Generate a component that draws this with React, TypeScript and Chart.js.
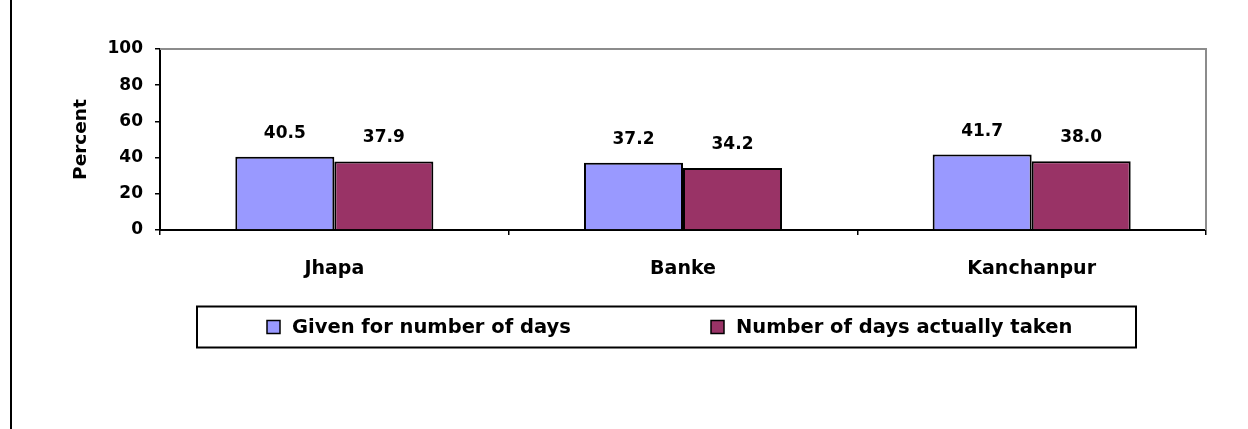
import React, { useEffect, useRef } from "react";
import { Chart, registerables } from "chart.js";

Chart.register(...registerables);

const categories = ["Jhapa", "Banke", "Kanchanpur"];
const givenDays = [40.5, 37.2, 41.7];
const actualDays = [37.9, 34.2, 38.0];
const seriesNames = ["Given for number of days", "Number of days actually taken"];
const seriesColors = ["#9999FF", "#993366"];
const yMin = 0;
const yMax = 100;
const yStep = 20;

const FONT = "'DejaVu Sans', sans-serif";

const frameAndLabels = {
  id: "frameAndLabels",
  afterDatasetsDraw(chart: any) {
    const { ctx } = chart;
    ctx.save();
    ctx.font = `bold 17px ${FONT}`;
    ctx.fillStyle = "#000";
    ctx.textAlign = "center";
    ctx.textBaseline = "alphabetic";
    chart.data.datasets.forEach((ds: any, di: number) => {
      const meta = chart.getDatasetMeta(di);
      meta.data.forEach((el: any, i: number) => {
        ctx.fillText(Number(ds.data[i]).toFixed(1), el.x, el.y - 19);
      });
    });
    ctx.restore();
  },
  afterDraw(chart: any) {
    const { ctx, chartArea } = chart;
    const { left, top, right, bottom } = chartArea;
    ctx.save();
    // top and right plot frame
    ctx.strokeStyle = "#8c8c8c";
    ctx.lineWidth = 2;
    ctx.beginPath();
    ctx.moveTo(left, top);
    ctx.lineTo(right, top);
    ctx.lineTo(right, bottom);
    ctx.stroke();

    // legend box
    const boxL = 197;
    const boxT = 306.5;
    const boxW = 939;
    const boxH = 41;
    ctx.strokeStyle = "#000";
    ctx.lineWidth = 2;
    ctx.strokeRect(boxL, boxT, boxW, boxH);
    const itemX = [267, 711];
    const cy = boxT + boxH / 2;
    ctx.font = `bold 19.5px ${FONT}`;
    ctx.textAlign = "left";
    ctx.textBaseline = "middle";
    seriesNames.forEach((name, i) => {
      const sw = 13;
      ctx.fillStyle = seriesColors[i];
      ctx.fillRect(itemX[i], cy - sw / 2, sw, sw);
      ctx.lineWidth = 1.5;
      ctx.strokeStyle = "#000";
      ctx.strokeRect(itemX[i], cy - sw / 2, sw, sw);
      ctx.fillStyle = "#000";
      ctx.fillText(name, itemX[i] + sw + 12, cy + 1);
    });
    ctx.restore();
  },
};

export default function App() {
  const canvasRef = useRef<HTMLCanvasElement | null>(null);

  useEffect(() => {
    if (!canvasRef.current) return;
    const tickFont = { family: FONT, size: 17, weight: "bold" as const };
    const catFont = { family: FONT, size: 19, weight: "bold" as const };
    const chart = new Chart(canvasRef.current, {
      type: "bar",
      data: {
        labels: categories,
        datasets: [
          {
            label: seriesNames[0],
            data: givenDays,
            backgroundColor: seriesColors[0],
            borderColor: "#000",
            borderWidth: 2,
            categoryPercentage: 0.568,
            barPercentage: 1,
          },
          {
            label: seriesNames[1],
            data: actualDays,
            backgroundColor: seriesColors[1],
            borderColor: "#000",
            borderWidth: 2,
            categoryPercentage: 0.568,
            barPercentage: 1,
          },
        ],
      },
      options: {
        responsive: false,
        animation: false,
        layout: { padding: { left: 0, top: 49, right: 42, bottom: 0 } },
        plugins: {
          legend: { display: false },
          tooltip: { enabled: false },
          title: { display: false },
        },
        scales: {
          x: {
            grid: {
              offset: true,
              drawOnChartArea: false,
              tickLength: 5,
              color: "#000",
              lineWidth: 1.5,
            },
            border: { color: "#000", width: 2 },
            ticks: { font: catFont, color: "#000", padding: 23 },
            afterFit: (s: any) => {
              s.height = 199;
            },
          },
          y: {
            min: yMin,
            max: yMax,
            ticks: { stepSize: yStep, font: tickFont, color: "#000", padding: 12 },
            grid: {
              drawOnChartArea: false,
              tickLength: 5,
              color: "#000",
              lineWidth: 1.5,
            },
            border: { color: "#000", width: 2 },
            title: {
              display: true,
              text: "Percent",
              color: "#000",
              font: { family: FONT, size: 18.5, weight: "bold" },
              padding: { top: 70, bottom: 0 },
            },
            afterFit: (s: any) => {
              s.width = 160;
            },
          },
        },
      },
      plugins: [frameAndLabels],
    });
    return () => chart.destroy();
  }, []);

  return (
    <div
      style={{
        position: "absolute",
        left: 0,
        top: 0,
        width: 1248,
        height: 429,
        background: "#fff",
        overflow: "hidden",
      }}
    >
      <div
        style={{
          position: "absolute",
          left: 10,
          top: 0,
          width: 2,
          height: 429,
          background: "#000",
        }}
      />
      <canvas
        ref={canvasRef}
        width={1248}
        height={429}
        style={{ position: "absolute", left: 0, top: 0 }}
      />
    </div>
  );
}
